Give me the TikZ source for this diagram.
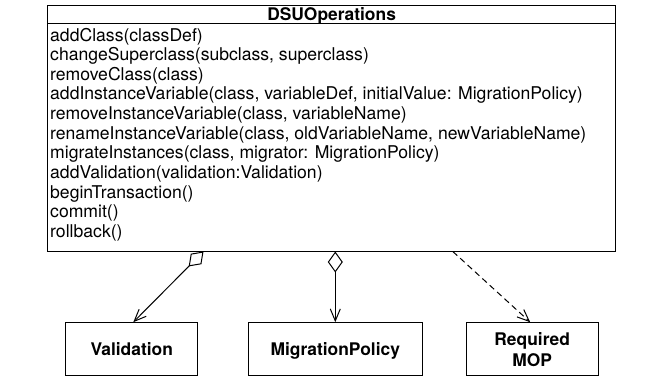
\documentclass[tikz,border=0pt]{standalone}
\usepackage{fontspec}
\setmainfont{TeX Gyre Heros}
\usetikzlibrary{arrows.meta}
\begin{document}
\begin{tikzpicture}[x=1pt,y=-1pt,
  umlbox/.style={draw,line width=1pt,inner sep=0pt},
  optext/.style={anchor=base west,inner sep=0pt,font=\fontsize{17.6}{19.65}\selectfont},
  titletext/.style={anchor=base,inner sep=0pt,font=\fontsize{17.4}{19.65}\selectfont\bfseries},
  cls/.style={draw,line width=1pt,minimum height=53pt,inner sep=0pt,font=\fontsize{17.4}{21}\selectfont\bfseries,align=center},
  conn/.style={line width=1pt},
  agg/.style={conn,{Diamond[open,length=21pt,width=15pt]}-{Straight Barb[length=12pt,width=10pt]}},
  dep/.style={conn,dash pattern=on 6pt off 4pt,-{Straight Barb[length=12pt,width=10pt]}}
]
\useasboundingbox (0,0) rectangle (649,386);
% main class box
\node[umlbox,minimum width=568.2pt,minimum height=246pt] (ops) at (331.6,128) {};
\draw[line width=1pt] ([yshift=-19.3pt]ops.north west) -- ([yshift=-19.3pt]ops.north east);
\node[titletext] (title) at (331.6,20.7) {DSUOperations};
\foreach \t [count=\i from 0] in {
  {addClass(classDef)},
  {changeSuperclass(subclass, superclass)},
  {removeClass(class)},
  {addInstanceVariable(class, variableDef, initialValue: MigrationPolicy)},
  {removeInstanceVariable(class, variableName)},
  {renameInstanceVariable(class, oldVariableName, newVariableName)},
  {migrateInstances(class, migrator: MigrationPolicy)},
  {addValidation(validation:Validation)},
  {beginTransaction()},
  {commit()},
  {rollback()}}
  \node[optext] (op\i) at (50,{41+19.65*\i}) {\t};
% bottom classes
\node[cls,text depth=0pt,minimum width=132pt] (val) at (131.7,349.2) {Validation};
\node[cls,text depth=0pt,minimum width=174pt] (mig) at (335.3,349.2) {MigrationPolicy};
\node[cls,minimum width=132.3pt] (req) at (532.2,349.2) {Required\\MOP};
% connectors
\draw[agg] ([xshift=156.5pt]ops.south west) -- ([xshift=1.6pt]val.north);
\draw[agg] (ops.south -| mig.north) -- (mig.north);
\draw[dep] ([xshift=405.8pt]ops.south west) -- ([xshift=-2pt]req.north);
\end{tikzpicture}
\end{document}
